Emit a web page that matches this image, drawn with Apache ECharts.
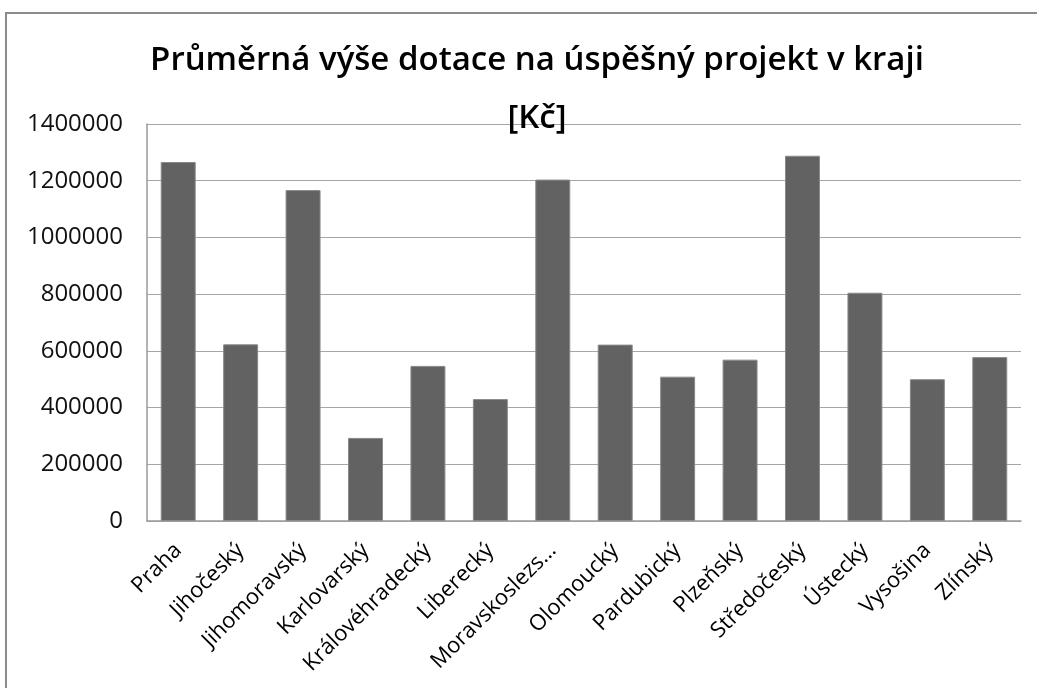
<!DOCTYPE html>
<html>
<head>
<meta charset="utf-8">
<script src="https://cdn.jsdelivr.net/npm/echarts@6/dist/echarts.min.js"></script>
<style>
  html, body { margin: 0; padding: 0; background: #fff; }
  #frame {
    position: absolute; left: 5px; top: 12px; width: 1040px; height: 690px;
    border: 2px solid #8c8c8c; box-sizing: border-box;
  }
  #chart { position: absolute; left: 0; top: 0; width: 1037px; height: 688px; }
</style>
</head>
<body>
<div id="frame"></div>
<div id="chart"></div>
<script>
const titleText = 'Průměrná výše dotace na úspěšný projekt v kraji\n[Kč]'

const regions = [
  'Praha', 'Jihočeský', 'Jihomoravský', 'Karlovarský', 'Královéhradecký',
  'Liberecký', 'Moravskoslezský', 'Olomoucký', 'Pardubický', 'Plzeňský',
  'Středočeský', 'Ústecký', 'Vysošina', 'Zlínský',
]

const avgGrant = [
  1266000, 623000, 1167000, 293000, 547000,
  430000, 1204000, 622000, 509000, 569000,
  1288000, 805000, 500000, 578000,
]

const yTicks = { min: 0, max: 1400000, interval: 200000 }

// the source cut this one label short
const truncated = { 'Moravskoslezský': 'Moravskoslezs…' }

const FONT = '"Open Sans", "Noto Sans", sans-serif'

const chart = echarts.init(document.getElementById('chart'))

chart.setOption({
  backgroundColor: 'transparent',
  animation: false,
  title: {
    text: titleText,
    left: 532,
    textAlign: 'center',
    top: 27,
    textStyle: {
      fontFamily: FONT,
      fontSize: 33,
      fontWeight: 600,
      color: '#000',
      lineHeight: 58,
    },
  },
  grid: { left: 147, right: 16, top: 124, bottom: 167 },
  xAxis: {
    type: 'category',
    data: regions,
    axisLine: { lineStyle: { color: '#9a9a9a', width: 1.5 } },
    axisTick: { show: false },
    axisLabel: {
      rotate: 45,
      interval: 0,
      margin: 26,
      fontFamily: FONT,
      fontSize: 22,
      color: '#000',
      formatter: (name) => truncated[name] || name,
    },
  },
  yAxis: {
    type: 'value',
    min: yTicks.min,
    max: yTicks.max,
    interval: yTicks.interval,
    axisLine: { show: true, lineStyle: { color: '#9a9a9a', width: 1.5 } },
    axisTick: { show: false },
    splitLine: { lineStyle: { color: '#a6a6a6', width: 1.2 } },
    axisLabel: {
      margin: 24,
      fontFamily: FONT,
      fontSize: 24,
      color: '#111',
      formatter: (v) => String(v),
    },
  },
  series: [
    {
      type: 'bar',
      data: avgGrant,
      barWidth: '56%',
      itemStyle: {
        color: '#626262',
        borderColor: '#8a8a8a',
        borderWidth: 1,
      },
    },
  ],
})
</script>
</body>
</html>
